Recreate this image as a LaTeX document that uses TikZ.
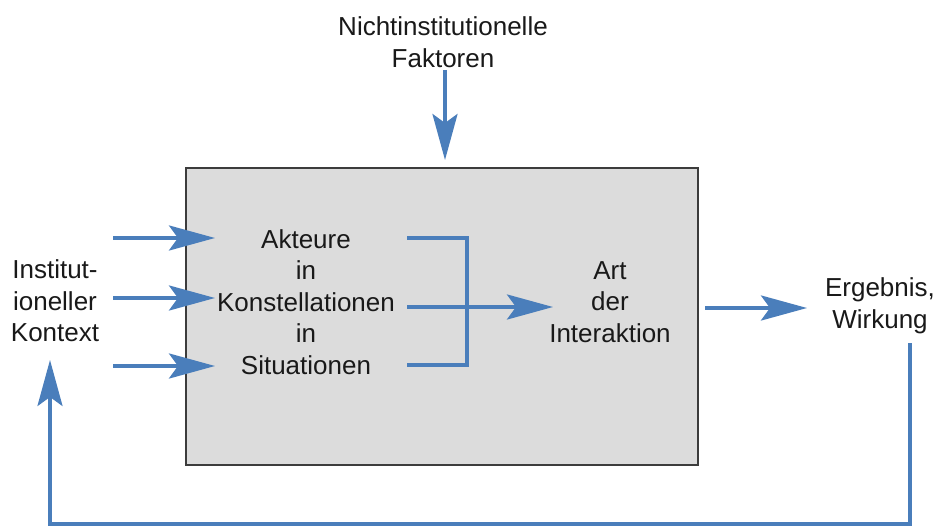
\documentclass[tikz,border=0pt]{standalone}
\usepackage{fontspec}
\setmainfont{Liberation Sans}
\usetikzlibrary{arrows.meta}
\definecolor{arrowblue}{RGB}{74,126,187}
\definecolor{boxgray}{RGB}{220,220,220}
\definecolor{boxline}{RGB}{60,60,60}
\definecolor{txt}{RGB}{25,25,25}
\begin{document}
\begin{tikzpicture}[x=1pt,y=-1pt,
  lbl/.style={font=\fontsize{26}{31.5}\selectfont, align=center, text=txt, inner sep=0pt},
  flow/.style={draw=arrowblue, line width=3.8pt, -{Stealth[length=46pt,width=25pt,inset=9pt]}},
  plainflow/.style={draw=arrowblue, line width=3.8pt}]
\useasboundingbox (0,0) rectangle (943,527);
\fill[white] (0,0) rectangle (943,527);
% main box
\node[draw=boxline, fill=boxgray, line width=2pt, minimum width=512pt, minimum height=297pt, inner sep=0pt] (box) at (442,316.5) {};
% texts
\node[lbl] (nicht) at (443,42) {Nichtinstitutionelle\\Faktoren};
\node[lbl] (akt) at (306,302) {Akteure\\in\\Konstellationen\\in\\Situationen};
\node[lbl] (art) at (610,302) {Art\\der\\Interaktion};
\node[lbl] (inst) at (55,301) {Institut-\\ioneller\\Kontext};
\node[lbl] (erg) at (880,306) {Ergebnis,\\Wirkung};
% coordinates
\coordinate (t1) at (445,70);  \coordinate (t2) at (445,160);
\coordinate (a1s) at (113,238); \coordinate (a1e) at (215,238);
\coordinate (a2s) at (113,298); \coordinate (a2e) at (215,298);
\coordinate (a3s) at (113,366); \coordinate (a3e) at (215,366);
\coordinate (b1) at (407,238); \coordinate (b2) at (467,238);
\coordinate (b3) at (467,365); \coordinate (b4) at (407,365);
\coordinate (m1) at (407,307); \coordinate (m2) at (553,307);
\coordinate (r1) at (705,308); \coordinate (r2) at (807,308);
\coordinate (f1) at (910,343); \coordinate (f2) at (910,524);
\coordinate (f3) at (50,524); \coordinate (f4) at (50,360);
% connectors
\draw[flow] (t1) -- (t2);
\draw[flow] (a1s) -- (a1e);
\draw[flow] (a2s) -- (a2e);
\draw[flow] (a3s) -- (a3e);
\draw[plainflow] (b1) -- (b2) -- (b3) -- (b4);
\draw[flow] (m1) -- (m2);
\draw[flow] (r1) -- (r2);
\draw[flow, line width=3.2pt] (f1) -- (f2) -- (f3) -- (f4);
\end{tikzpicture}
\end{document}
